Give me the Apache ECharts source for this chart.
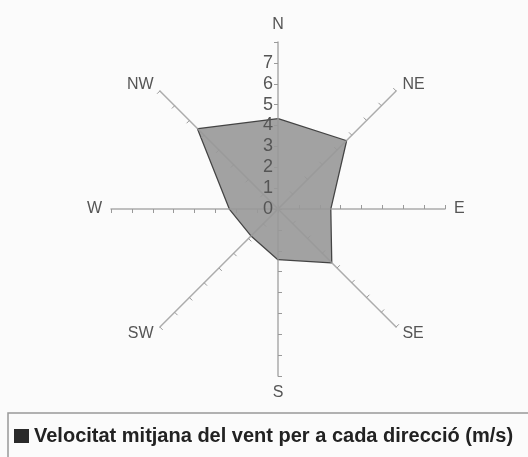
<!DOCTYPE html>
<html lang="ca">
  <head>
    <meta charset="UTF-8" />
    <title>vent</title>
    <style>
      html, body { margin: 0; padding: 0; background: #fbfbfb; }
      #main { width: 528px; height: 457px; }
    </style>
  </head>
  <body>
    <div id="main"></div>
  </body>
  <script src="https://cdn.jsdelivr.net/npm/echarts@6/dist/echarts.min.js"></script>
  <script>
    /* globals echarts */

    // directions in the order ECharts walks round the radar (counter-clockwise from top)
    var directions = ["N", "NW", "W", "SW", "S", "SE", "E", "NE"];
    // mean wind speed per direction (m/s), same order
    var speeds = [4.3, 5.4, 2.3, 1.8, 2.4, 3.6, 2.5, 4.6];
    var axisMax = 8;
    var seriesName = "Velocitat mitjana del vent per a cada direcció (m/s)";

    var chart = echarts.init(document.getElementById("main"));

    var indicators = directions.map(function (d, i) {
      var ind = { name: d, min: 0, max: axisMax };
      if (i === 0) {
        ind.axisLabel = {
          show: true,
          color: "#555",
          fontSize: 18,
          fontFamily: "Liberation Sans",
          margin: 5,
          formatter: function (v) { return v >= axisMax ? "" : v; }
        };
      }
      return ind;
    });

    var option = {
      backgroundColor: "#fbfbfb",
      animation: false,
      legend: {
        left: 8,
        top: 413,
        data: [{ name: seriesName, icon: "rect", itemStyle: { color: "#2a2a2a" } }],
        itemWidth: 15,
        itemHeight: 14,
        itemGap: 4,
        padding: [13, 40, 14, 6],
        borderColor: "#999",
        borderWidth: 1.5,
        textStyle: { fontSize: 20, fontWeight: "bold", color: "#222", fontFamily: "Liberation Sans" }
      },
      radar: {
        z: 3,
        center: [278, 209],
        radius: 167,
        startAngle: 90,
        splitNumber: 8,
        shape: "polygon",
        nameGap: 9,
        axisName: { color: "#555", fontSize: 16, fontFamily: "Liberation Sans" },
        indicator: indicators,
        axisLine: { lineStyle: { color: "#999", width: 1.5, opacity: 0.8 } },
        axisTick: { show: true, length: 4, lineStyle: { color: "#999" } },
        axisLabel: { show: false },
        splitLine: { show: false },
        splitArea: { show: false }
      },
      series: [
        {
          name: seriesName,
          type: "radar",
          z: 2,
          symbol: "none",
          lineStyle: { color: "#444", width: 2.5 },
          itemStyle: { color: "#999" },
          areaStyle: { color: "#a2a2a2", opacity: 1 },
          data: [{ value: speeds, name: seriesName }]
        }
      ]
    };

    chart.setOption(option);
  </script>
</html>
